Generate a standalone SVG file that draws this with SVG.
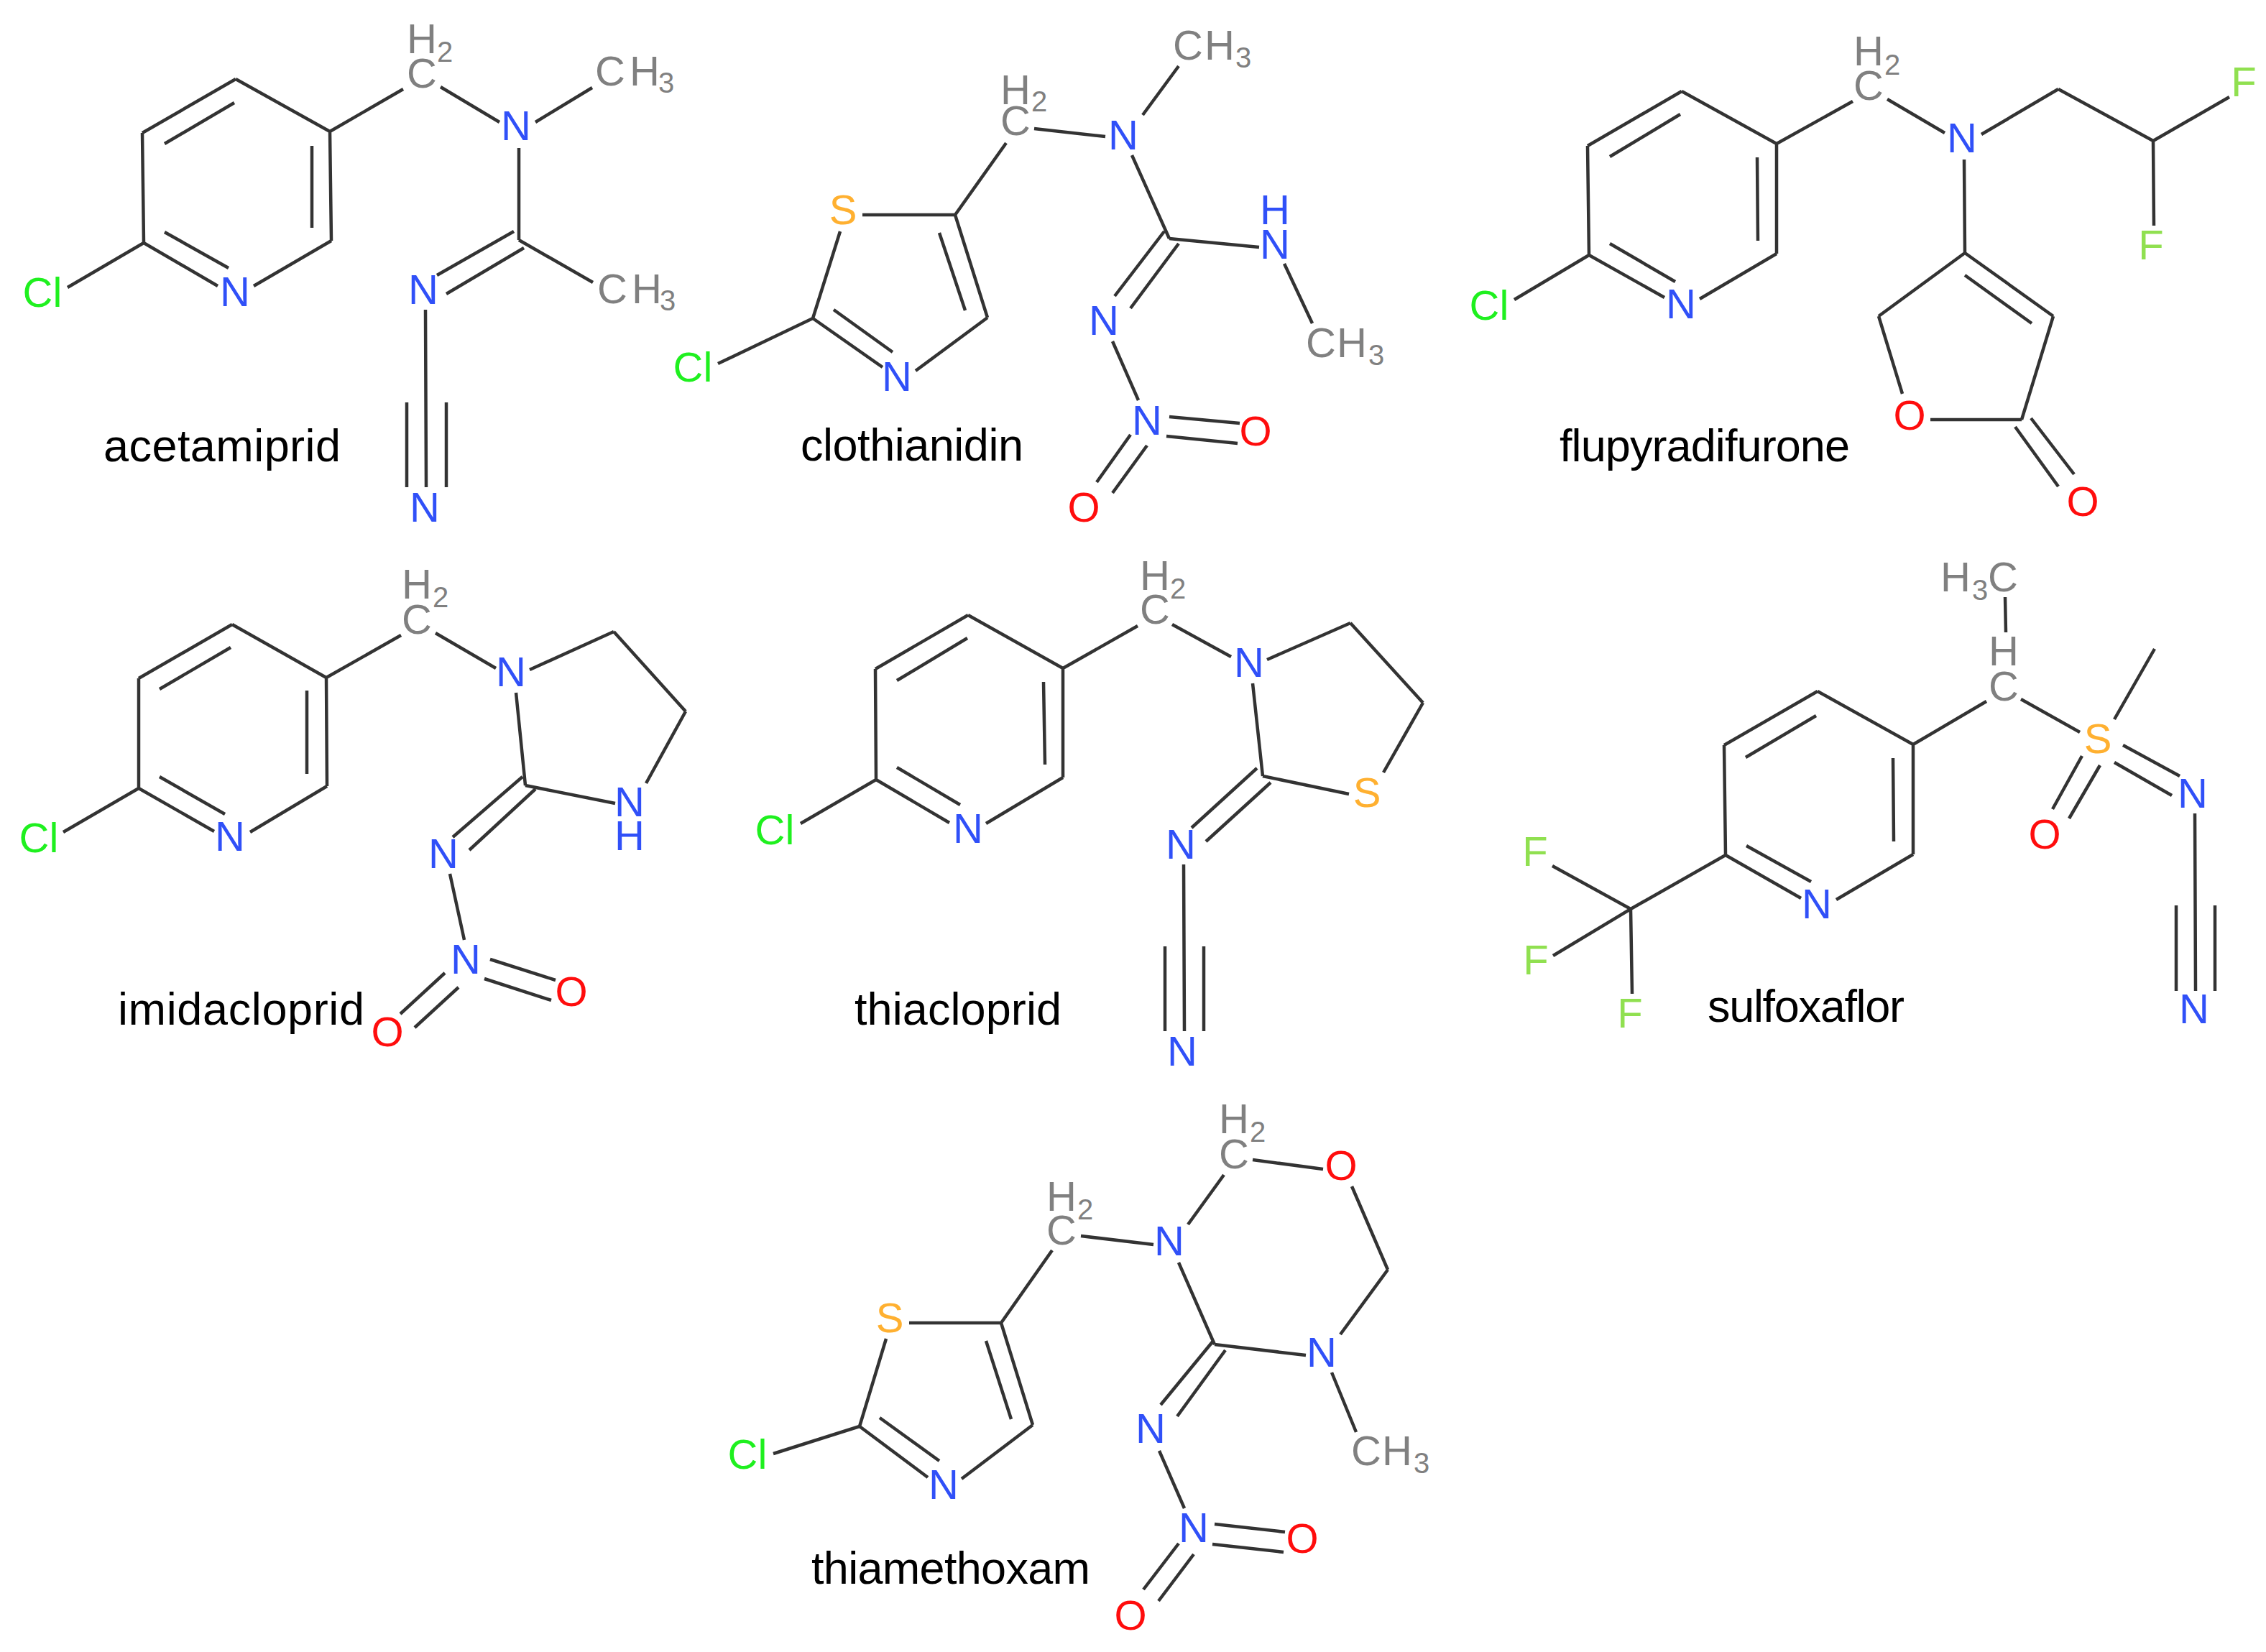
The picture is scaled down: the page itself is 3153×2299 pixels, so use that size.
<svg xmlns="http://www.w3.org/2000/svg" width="3153" height="2299" viewBox="0 0 3153 2299">
<style>
text{font-family:"Liberation Sans",Arial,sans-serif;text-anchor:middle}
.a{font-size:58px}
.s{font-size:40px}
.cap{font-size:63px;fill:#000;text-anchor:start}
.b{fill:none;stroke:#333;stroke-width:4.5;stroke-linecap:butt}
.C{fill:#808080}.N{fill:#3050f8}.O{fill:#ff0d0d}.S{fill:#ffb030}.F{fill:#90e050}.L{fill:#1ff01f}
</style>
<rect width="3153" height="2299" fill="#fff"/>

<g id="acetamiprid">
<g class="connectors"><path class="b" d="M328 110L198 185M326 143L229 200M198 185L200 338M200 338L303 398M229 323L318 373M353 398L461 335M461 335L459 183M434 203L434 317M459 183L328 110M200 338L94 400M459 183L561 124M613 121L695 170M745 170L824 122M722 206L722 334M715 322L608 383M729 345L621 409M722 334L825 393M592 431L593 678M566 560L566 678M621 560L621 678"/></g>
<text class="a L" x="59" y="427">Cl</text>
<text class="a N" x="327" y="426">N</text>
<text class="a C" x="587" y="122">C<tspan x="587" y="74">H</tspan><tspan class="s" x="619" y="86">2</tspan></text>
<text class="a N" x="718" y="195">N</text>
<text class="a C" x="849 897" y="119">CH<tspan class="s" x="927" dy="10">3</tspan></text>
<text class="a N" x="589" y="423">N</text>
<text class="a C" x="852 900" y="422">CH<tspan class="s" x="929" dy="10">3</tspan></text>
<text class="a N" x="591" y="726">N</text>
<text class="cap" x="144" y="642" textLength="330">acetamiprid</text>
</g>

<g id="clothianidin">
<g class="connectors"><path class="b" d="M1200 299L1329 299M1169 322L1131 443M1131 443L999 506M1131 443L1228 511M1160 431L1242 490M1274 516L1374 442M1374 442L1329 299M1343 432L1307 324M1329 299L1400 199M1439 179L1538 190M1590 160L1640 92M1575 216L1627 332M1627 332L1752 344M1787 367L1826 450M1620 322L1551 412M1640 339L1573 429M1548 475L1584 557M1627 580L1725 589M1623 607L1722 617M1573 605L1526 671M1596 620L1548 686"/></g>
<text class="a S" x="1173" y="312">S</text>
<text class="a N" x="1248" y="544">N</text>
<text class="a L" x="964" y="531">Cl</text>
<text class="a C" x="1413" y="188">C<tspan x="1413" y="145">H</tspan><tspan class="s" x="1446" y="155">2</tspan></text>
<text class="a N" x="1563" y="208">N</text>
<text class="a C" x="1653 1697" y="83">CH<tspan class="s" x="1730" dy="11">3</tspan></text>
<text class="a N" x="1774" y="312">H<tspan x="1774" y="360">N</tspan></text>
<text class="a C" x="1838 1881" y="497">CH<tspan class="s" x="1915" dy="11">3</tspan></text>
<text class="a N" x="1536" y="466">N</text>
<text class="a N" x="1596" y="605">N</text>
<text class="a O" x="1747" y="620">O</text>
<text class="a O" x="1508" y="726">O</text>
<text class="cap" x="1114" y="641" textLength="310">clothianidin</text>
</g>

<g id="flupyradifurone">
<g class="connectors"><path class="b" d="M2340 127L2209 203M2338 159L2240 218M2209 203L2211 355M2211 355L2316 414M2240 339L2331 392M2365 416L2472 353M2472 353L2472 200M2445 219L2446 335M2472 200L2340 127M2211 355L2107 417M2472 200L2578 141M2626 138L2706 185M2757 187L2864 124M2864 124L2996 196M2996 196L3102 135M2996 196L2997 314M2733 222L2734 352M2734 352L2614 440M2734 352L2857 440M2734 383L2827 450M2857 440L2813 584M2614 440L2647 548M2686 584L2813 584M2826 582L2886 660M2804 594L2864 677"/></g>
<text class="a N" x="2339" y="443">N</text>
<text class="a L" x="2072" y="445">Cl</text>
<text class="a C" x="2600" y="139">C<tspan x="2600" y="91">H</tspan><tspan class="s" x="2633" y="104">2</tspan></text>
<text class="a N" x="2730" y="212">N</text>
<text class="a F" x="3122" y="134">F</text>
<text class="a F" x="2993" y="361">F</text>
<text class="a O" x="2657" y="598">O</text>
<text class="a O" x="2898" y="718">O</text>
<text class="cap" x="2170" y="642" textLength="404">flupyradifurone</text>
</g>

<g id="imidacloprid">
<g class="connectors"><path class="b" d="M323 869L193 944M321 901L222 959M193 944L193 1097M193 1097L298 1157M222 1081L313 1133M348 1158L455 1094M455 1094L454 943M427 961L427 1077M454 943L323 869M193 1097L88 1158M454 943L558 884M606 881L690 930M737 932L854 879M854 879L954 990M954 990L899 1090M856 1118L731 1093M718 964L731 1093M727 1081L630 1165M745 1098L653 1183M626 1216L646 1308M682 1335L773 1364M674 1362L767 1392M619 1354L557 1411M638 1374L577 1430"/></g>
<text class="a N" x="320" y="1184">N</text>
<text class="a L" x="54" y="1186">Cl</text>
<text class="a C" x="580" y="882">C<tspan x="580" y="833">H</tspan><tspan class="s" x="613" y="845">2</tspan></text>
<text class="a N" x="711" y="955">N</text>
<text class="a N" x="876" y="1136">N<tspan x="876" y="1183">H</tspan></text>
<text class="a N" x="617" y="1208">N</text>
<text class="a N" x="648" y="1355">N</text>
<text class="a O" x="795" y="1400">O</text>
<text class="a O" x="539" y="1456">O</text>
<text class="cap" x="164" y="1426" textLength="343">imidacloprid</text>
</g>

<g id="thiacloprid">
<g class="connectors"><path class="b" d="M1347 856L1218 931M1346 888L1248 947M1218 931L1219 1085M1219 1085L1321 1145M1248 1068L1336 1120M1372 1146L1479 1082M1479 1082L1479 930M1452 949L1454 1064M1479 930L1347 856M1219 1085L1114 1146M1479 930L1583 871M1631 869L1713 914M1763 918L1879 867M1879 867L1980 978M1980 978L1925 1075M1877 1105L1757 1080M1743 951L1757 1080M1749 1069L1658 1152M1768 1089L1678 1171M1647 1203L1648 1435M1621 1317L1621 1435M1675 1317L1675 1435"/></g>
<text class="a N" x="1347" y="1173">N</text>
<text class="a L" x="1078" y="1175">Cl</text>
<text class="a C" x="1607" y="868">C<tspan x="1607" y="821">H</tspan><tspan class="s" x="1639" y="833">2</tspan></text>
<text class="a N" x="1738" y="942">N</text>
<text class="a S" x="1902" y="1123">S</text>
<text class="a N" x="1643" y="1195">N</text>
<text class="a N" x="1645" y="1483">N</text>
<text class="cap" x="1189" y="1426" textLength="288">thiacloprid</text>
</g>

<g id="sulfoxaflor">
<g class="connectors"><path class="b" d="M2529 962L2399 1037M2527 996L2429 1054M2399 1037L2401 1190M2401 1190L2506 1250M2430 1177L2520 1227M2555 1252L2662 1189M2662 1189L2662 1036M2634 1055L2635 1171M2662 1036L2529 962M2401 1190L2269 1265M2160 1205L2269 1265M2269 1265L2161 1330M2269 1265L2271 1383M2662 1036L2764 976M2790 831L2791 880M2812 973L2894 1019M2942 1001L2998 903M2954 1037L3033 1080M2942 1061L3022 1107M2897 1052L2856 1126M2922 1065L2879 1139M3054 1132L3055 1379M3028 1260L3028 1379M3082 1260L3082 1379"/></g>
<text class="a N" x="2528" y="1278">N</text>
<text class="a F" x="2136" y="1205">F</text>
<text class="a F" x="2137" y="1356">F</text>
<text class="a F" x="2268" y="1430">F</text>
<text class="a C" x="2788" y="975">C<tspan x="2788" y="926">H</tspan></text>
<text class="a C" x="2721" y="823">H<tspan class="s" x="2755" dy="12">3</tspan><tspan x="2787" dy="-12">C</tspan></text>
<text class="a S" x="2919" y="1048">S</text>
<text class="a N" x="3051" y="1124">N</text>
<text class="a O" x="2845" y="1181">O</text>
<text class="a N" x="3053" y="1424">N</text>
<text class="cap" x="2376" y="1422" textLength="274">sulfoxaflor</text>
</g>

<g id="thiamethoxam">
<g class="connectors"><path class="b" d="M1265 1841L1393 1841M1233 1863L1196 1985M1196 1985L1076 2023M1196 1985L1291 2056M1224 1973L1307 2033M1338 2058L1437 1983M1437 1983L1393 1841M1407 1975L1372 1866M1393 1841L1464 1740M1504 1720L1605 1732M1653 1704L1703 1635M1743 1614L1841 1627M1881 1651L1931 1767M1931 1767L1865 1857M1640 1757L1690 1871M1690 1871L1817 1886M1853 1910L1887 1993M1689 1865L1615 1955M1705 1879L1638 1971M1613 2019L1648 2099M1690 2121L1788 2132M1687 2149L1786 2160M1640 2148L1591 2212M1661 2163L1612 2228"/></g>
<text class="a S" x="1238" y="1854">S</text>
<text class="a L" x="1040" y="2044">Cl</text>
<text class="a N" x="1313" y="2086">N</text>
<text class="a C" x="1477" y="1732">C<tspan x="1477" y="1685">H</tspan><tspan class="s" x="1510" y="1697">2</tspan></text>
<text class="a N" x="1627" y="1747">N</text>
<text class="a C" x="1717" y="1626">C<tspan x="1717" y="1577">H</tspan><tspan class="s" x="1750" y="1589">2</tspan></text>
<text class="a O" x="1866" y="1642">O</text>
<text class="a N" x="1839" y="1902">N</text>
<text class="a C" x="1901 1944" y="2039">CH<tspan class="s" x="1978" dy="11">3</tspan></text>
<text class="a N" x="1601" y="2008">N</text>
<text class="a N" x="1661" y="2146">N</text>
<text class="a O" x="1812" y="2161">O</text>
<text class="a O" x="1573" y="2268">O</text>
<text class="cap" x="1129" y="2204" textLength="388">thiamethoxam</text>
</g>
</svg>
